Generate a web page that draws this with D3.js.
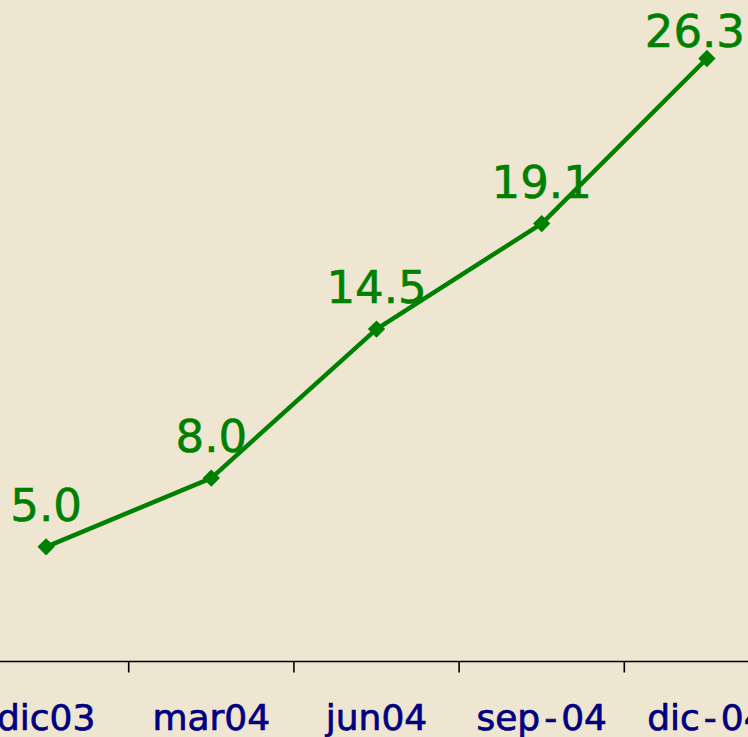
<!DOCTYPE html>
<html><head><meta charset="utf-8">
<script src="https://cdn.jsdelivr.net/npm/d3@7"></script>
<style>html,body{margin:0;padding:0;background:#efe6d2;}svg{display:block;}</style>
</head><body>
<script>
const categories = ["dic03", "mar04", "jun04", "sep-04", "dic-04"];
const values = [5.0, 8.0, 14.5, 19.1, 26.3];
const valueLabels = ["5.0", "8.0", "14.5", "19.1", "26.3"];

const W = 748, H = 737;
const svg = d3.select("body").append("svg").attr("width", W).attr("height", H);
svg.append("rect").attr("width", W).attr("height", H).attr("fill", "#efe6d2");

const x = d3.scaleBand().domain(categories).range([-36.5, 789.5]).padding(0);
const y = d3.scaleLinear().domain([0, 26.3]).range([661.5, 58.5]);

// axis
const axisG = svg.append("g").attr("transform", "translate(0,661.5)");
axisG.append("line").attr("x1", 0).attr("x2", W).attr("stroke", "#000").attr("stroke-width", 1.6);
const bounds = categories.slice(1).map(c => x(c));
axisG.selectAll("line.tick").data(bounds).join("line").attr("class", "tick")
  .attr("x1", d => d).attr("x2", d => d).attr("y1", 0).attr("y2", 11)
  .attr("stroke", "#000").attr("stroke-width", 1.6);
const catText = axisG.selectAll("text").data(categories).join("text")
  .attr("x", d => x(d) + x.bandwidth() / 2)
  .attr("y", 68)
  .attr("text-anchor", "middle")
  .attr("font-family", "DejaVu Sans")
  .attr("font-size", 36)
  .attr("fill", "#000080")
  .attr("stroke", "#000080")
  .attr("stroke-width", 0.7);
catText.each(function(d) {
  const parts = d.split("-");
  const t = d3.select(this);
  parts.forEach((p, i) => {
    if (i > 0) t.append("tspan").attr("dx", 4).text("-");
    t.append("tspan").attr("dx", i > 0 ? 4 : 0).text(p);
  });
});

const pts = categories.map((c, i) => [x(c) + x.bandwidth() / 2, y(values[i])]);
svg.append("path").attr("d", d3.line()(pts)).attr("fill", "none")
  .attr("stroke", "#008000").attr("stroke-width", 4.5).attr("stroke-linejoin", "round");

svg.selectAll("path.m").data(pts).join("path").attr("class", "m")
  .attr("d", d3.symbol(d3.symbolSquare, 150)())
  .attr("transform", d => `translate(${d[0]},${d[1]}) rotate(45)`)
  .attr("fill", "#008000");

const labels = svg.selectAll("text.v").data(pts).join("text").attr("class", "v")
  .attr("font-family", "DejaVu Sans")
  .attr("font-size", 45)
  .attr("fill", "#008000")
  .attr("stroke", "#008000")
  .attr("stroke-width", 0.6)
  .attr("text-anchor", "middle")
  .text((d, i) => valueLabels[i]);
labels.each(function(d) {
  const w = this.getComputedTextLength();
  let cx = d[0];
  cx = Math.min(cx, W - 3 - w / 2);
  cx = Math.max(cx, 3 + w / 2);
  let by = d[1] - 26;
  by = Math.max(by, 47);
  d3.select(this).attr("x", cx).attr("y", by);
});
</script>
</body></html>
